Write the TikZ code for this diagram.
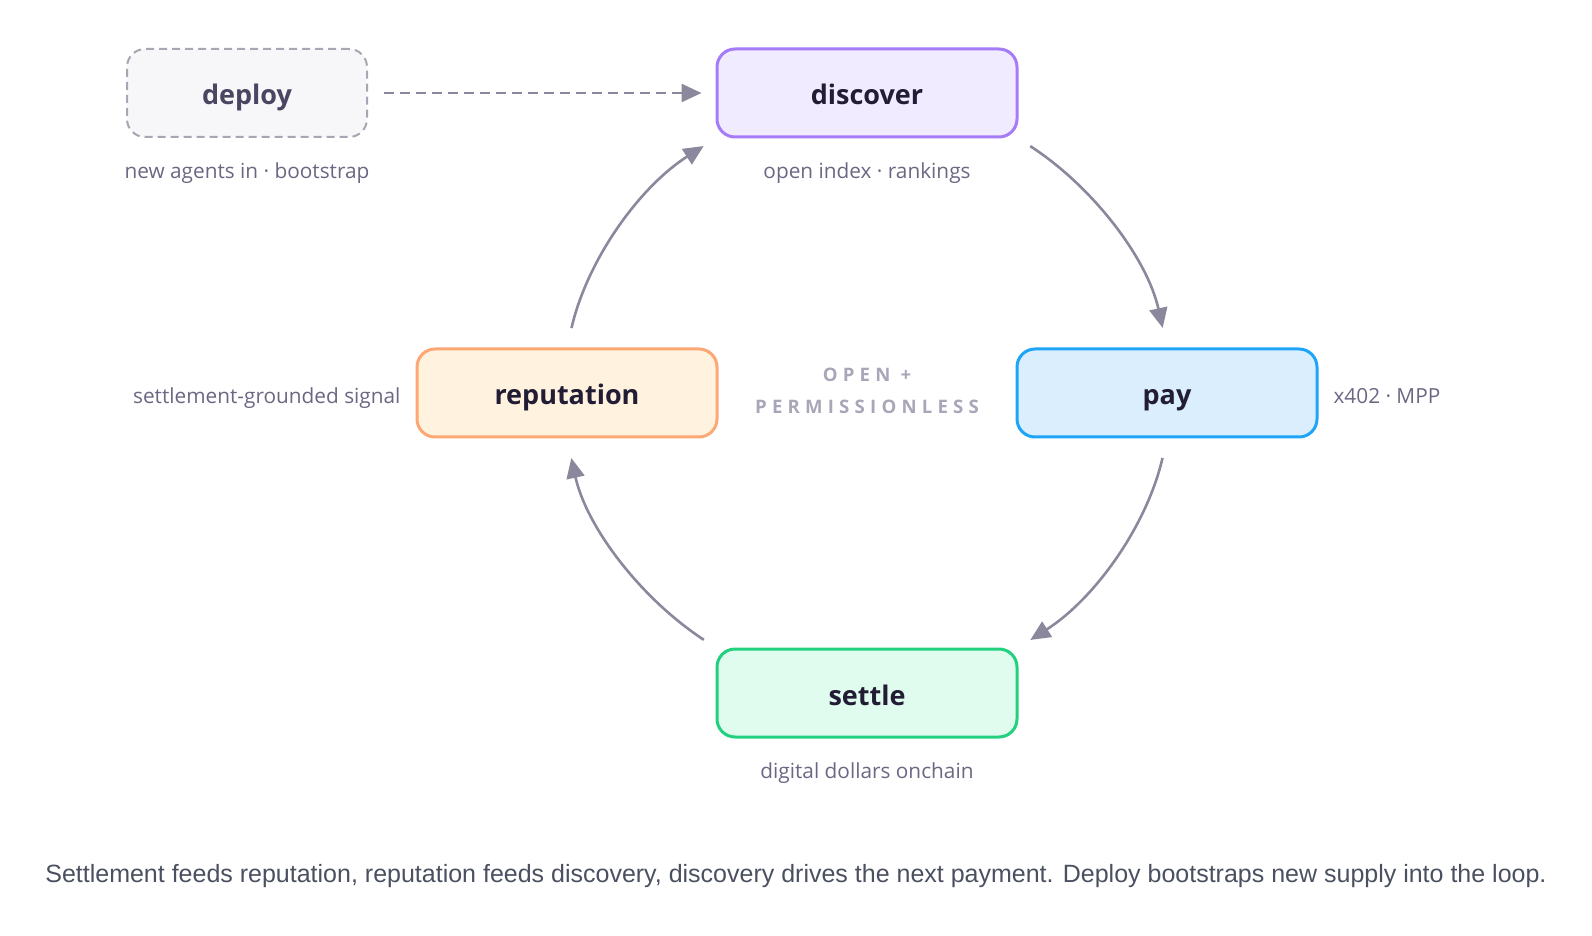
\documentclass[tikz,border=0pt]{standalone}
\usepackage{fontspec}
\setmainfont{Open Sans}
\newfontfamily\capfont{Liberation Sans}
\newfontfamily\trackfont[LetterSpace=28]{Open Sans}
\usetikzlibrary{arrows.meta,positioning}
\definecolor{inkdark}{HTML}{221D35}
\definecolor{inkdeploy}{HTML}{4A4560}
\definecolor{inknote}{HTML}{6B6783}
\definecolor{inkmid}{HTML}{A9A6B8}
\definecolor{inkcap}{HTML}{4A5060}
\definecolor{flowgray}{HTML}{8B879C}
\definecolor{discfill}{HTML}{F0EBFE}
\definecolor{discline}{HTML}{A57BF7}
\definecolor{payfill}{HTML}{DBEEFE}
\definecolor{payline}{HTML}{1EA5F7}
\definecolor{setfill}{HTML}{E0FCEF}
\definecolor{setline}{HTML}{22D17E}
\definecolor{repfill}{HTML}{FFF3DF}
\definecolor{repline}{HTML}{FDA874}
\definecolor{depfill}{HTML}{F7F7F9}
\definecolor{depline}{HTML}{A8A6B3}
\begin{document}
\begin{tikzpicture}[x=0.5pt,y=0.5pt,
    main/.style = {draw, rounded corners=9pt, line width=1.5pt, minimum width=150pt,
      minimum height=44pt, text height=12pt, text depth=0pt, text=inkdark,
      font=\fontsize{13.5}{15}\selectfont\bfseries},
    deploybox/.style = {draw=depline, fill=depfill, rounded corners=9pt, line width=1pt,
      dash pattern=on 4pt off 2.5pt, minimum width=120pt, minimum height=44pt,
      text height=12pt, text depth=0pt, text=inkdeploy,
      font=\fontsize{13.5}{15}\selectfont\bfseries},
    note/.style = {text=inknote, text height=9pt, text depth=2.4pt,
      font=\fontsize{10.4}{12}\selectfont},
    flow/.style = {color=flowgray, line width=1.3pt, -{Triangle[length=10pt,width=9pt]}},
    arc/.style = {looseness=0.9, shorten <=7pt, shorten >=10pt}]
        \useasboundingbox (0,0) rectangle (1592,-936);

        \node[main, draw=discline, fill=discfill](disc) at (867,-93){discover};
        \node[main, draw=payline, fill=payfill, on grid](pay)[below right=150pt and 150pt of disc]{pay};
        \node[main, draw=repline, fill=repfill, on grid](rep)[below left=150pt and 150pt of disc]{reputation};
        \node[main, draw=setline, fill=setfill, on grid](settle)[below=300pt of disc]{settle};
        \node[deploybox, on grid](deploy)[left=310pt of disc]{deploy};

        \node[note, on grid](deploynote)[below=39.5pt of deploy]{new agents in · bootstrap};
        \node[note, on grid](discnote)[below=39.5pt of disc]{open index · rankings};
        \node[note, yshift=-2pt](paynote)[right=4pt of pay]{x402 · MPP};
        \node[note, yshift=-2pt](repnote)[left=4pt of rep]{settlement-grounded signal};
        \node[note, on grid](setnote)[below=39.5pt of settle]{digital dollars onchain};

        \node[text=inkmid, align=center, font=\trackfont\bfseries\fontsize{9.3}{16}\selectfont](core) at (867,-391){OPEN +\\PERMISSIONLESS};

        \node[text=inkcap, font=\capfont\fontsize{12.5}{14}\selectfont](caption) at (796,-876){Settlement feeds reputation, reputation feeds discovery, discovery drives the next payment. Deploy bootstraps new supply into the loop.};

        \path
        (deploy) edge[flow, dash pattern=on 5pt off 3pt, shorten <=8pt, shorten >=7pt] (disc)
        (disc.south east) edge[flow, arc, out=-33, in=102.5] (pay.north)
        (pay.south) edge[flow, arc, out=-103, in=32.6, shorten <=10pt, shorten >=7pt] (settle.north east)
        (settle.north west) edge[flow, arc, out=146.7, in=-77.6] (rep.south)
        (rep.north) edge[flow, arc, out=77, in=-147.5, shorten <=10pt, shorten >=7pt] (disc.south west)
        ;
      \end{tikzpicture}
\end{document}
